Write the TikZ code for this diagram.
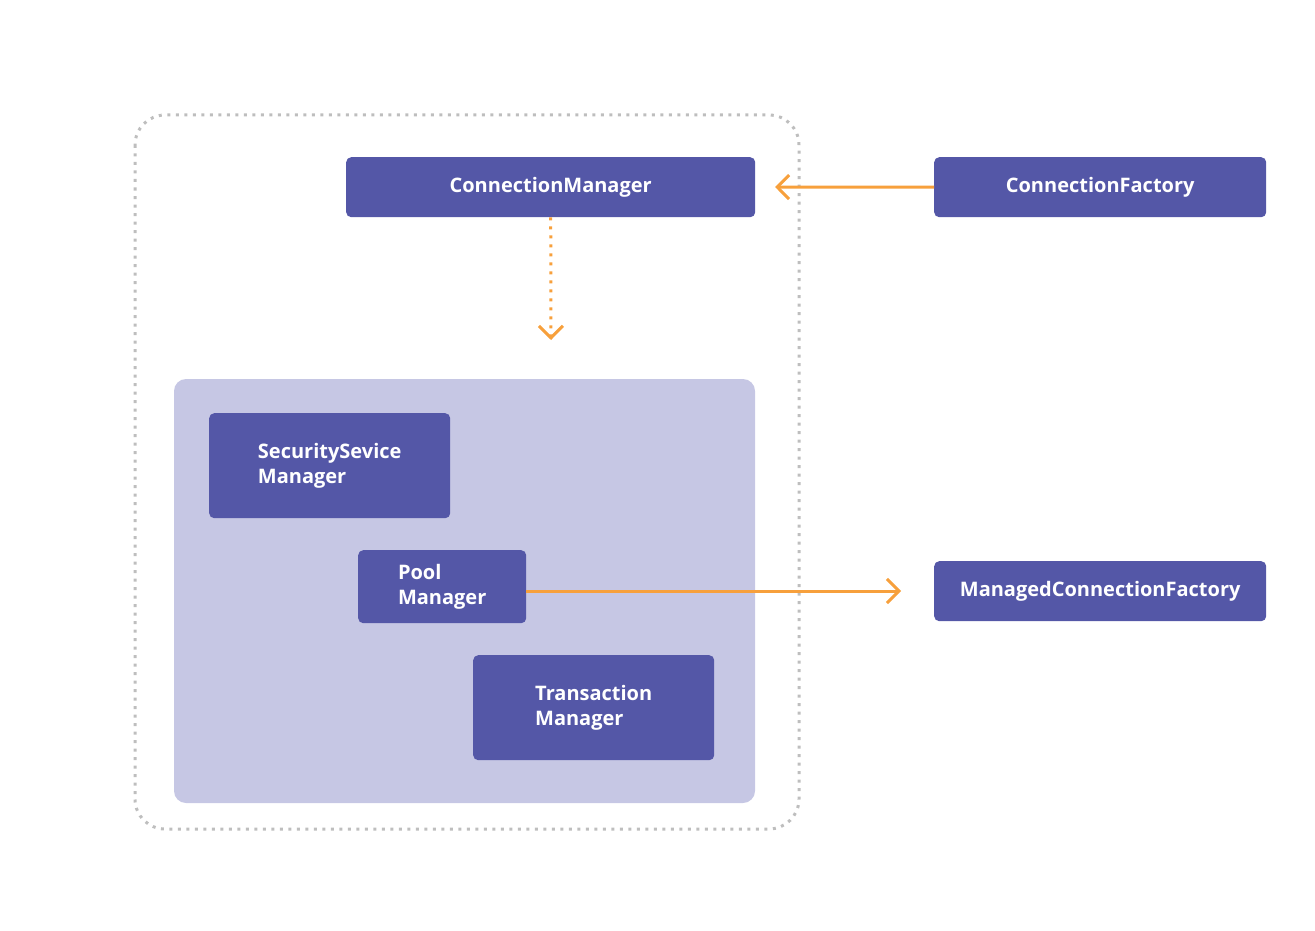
\documentclass[tikz,border=0pt]{standalone}
\usepackage{fontspec}
\setmainfont{Open Sans}
\usetikzlibrary{arrows.meta}
\definecolor{boxblue}{RGB}{84,87,167}
\definecolor{panel}{RGB}{198,199,228}
\definecolor{orangeline}{RGB}{247,160,60}
\definecolor{grayline}{RGB}{190,190,190}
\tikzset{
  comp/.style={fill=boxblue, rounded corners=5pt, text=white, font=\fontsize{20}{24.5}\selectfont\bfseries, align=left, inner sep=0pt, anchor=north west},
  flow/.style={draw=orangeline, line width=3pt, -{Straight Barb[length=12pt,width=24pt]}},
}
\begin{document}
\begin{tikzpicture}[x=1pt,y=-1pt]
\useasboundingbox (0,0) rectangle (1315,931);
\draw[grayline, line width=3pt, dash pattern=on 3pt off 5.5pt, rounded corners=30pt] (135,115) rectangle (799,829);
\fill[panel, rounded corners=12pt] (174,379) rectangle (755,803);
\node[comp, minimum width=409pt, minimum height=60pt, align=center] (cm) at (346,157) {ConnectionManager};
\node[comp, minimum width=332pt, minimum height=60pt, align=center] (cf) at (934,157) {ConnectionFactory};
\node[comp, minimum width=332pt, minimum height=60pt, align=center] (mcf) at (934,561) {ManagedConnectionFactory};
\node[comp, minimum width=241pt, minimum height=105pt] (ssm) at (209,413) {SecuritySevice\\Manager};
\node[comp, minimum width=168pt, minimum height=73pt] (pm) at (358,550) {Pool\\Manager};
\node[comp, minimum width=241pt, minimum height=105pt] (tm) at (473,655) {Transaction\\Manager};
\coordinate (cmtip) at (775,187);
\coordinate (poolend) at (551,340);
\coordinate (mcftip) at (901,591);
\draw[flow] (cf.west) -- (cmtip);
\draw[flow, dash pattern=on 3pt off 6pt] (cm.south) -- (poolend);
\draw[flow] (pm.east |- mcftip) -- (mcftip);
\end{tikzpicture}
\end{document}
